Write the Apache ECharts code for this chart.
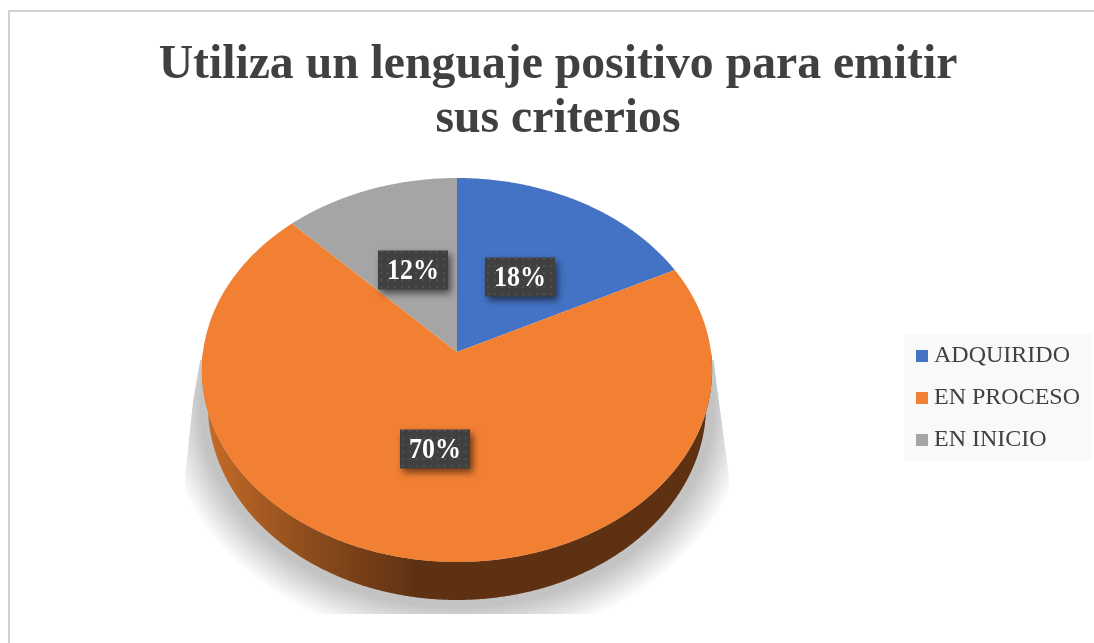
<!DOCTYPE html>
<html>
<head>
<meta charset="utf-8">
<title>Utiliza un lenguaje positivo</title>
<style>
  html, body { margin: 0; padding: 0; background: #fff; }
  #chart { width: 1094px; height: 643px; }
</style>
<script src="https://cdn.jsdelivr.net/npm/echarts@6/dist/echarts.min.js"></script>
</head>
<body>
<div id="chart"></div>
<script>
const chartTitle = 'Utiliza un lenguaje positivo para emitir\nsus criterios'
const categories = ['ADQUIRIDO', 'EN PROCESO', 'EN INICIO']
// slice sizes, the labels round them to 18 / 70 / 12
const percentages = [17.6, 70.2, 12.2]
const sliceColors = ['#4472c4', '#f28033', '#a5a5a5']

const FONT = '"Liberation Serif", serif'
const total = percentages.reduce((a, b) => a + b, 0)

// the pie is tilted: a circle seen in perspective, so the apex sits above the ellipse centre
const CX = 457
const APEX_Y = 352
const R = 254
const PERSP = -0.09375
const PERSP_A = 157.3

function project(r, deg) {
  const t = (deg * Math.PI) / 180
  const u = r * Math.sin(t)
  const v = -r * Math.cos(t)
  const d = 1 + PERSP * v
  return [CX + (R * u) / d, (PERSP_A * v + APEX_Y) / d]
}

// lower rim of the disc, taken from the matching point of the top face
function lower(p) {
  return [CX + ((p[0] - CX) * 249) / 255, 405 + ((p[1] - 370) * 195) / 192]
}

function startDeg(i) {
  let sum = 0
  for (let k = 0; k < i; k++) sum += percentages[k]
  return (sum / total) * 360
}

function dotPattern() {
  const c = document.createElement('canvas')
  c.width = 7
  c.height = 7
  const g = c.getContext('2d')
  g.fillStyle = '#404040'
  g.fillRect(0, 0, 7, 7)
  g.fillStyle = '#505050'
  g.fillRect(2, 2, 2, 2)
  return c
}
const labelPattern = { image: dotPattern(), repeat: 'repeat' }

function renderSlice(params, api) {
  const i = params.seriesIndex - 1
  const from = startDeg(i)
  const to = from + (api.value(0) / total) * 360
  const face = [[CX, APEX_Y]]
  for (let a = from; a <= to; a += 0.5) face.push(project(1, a))
  face.push(project(1, to))

  const children = []

  // side wall only where the slice crosses the front half
  const wallFrom = Math.max(from, 90)
  const wallTo = Math.min(to, 270)
  if (wallTo > wallFrom) {
    const top = []
    const bottom = []
    for (let a = wallFrom; a <= wallTo; a += 0.5) {
      const p = project(1, a)
      top.push(p)
      bottom.unshift(lower(p))
    }
    children.push({
      type: 'polygon',
      shape: { points: top.concat(bottom) },
      style: {
        fill: new echarts.graphic.LinearGradient(202, 0, 712, 0, [
          { offset: 0, color: '#c76c27' },
          { offset: 0.2, color: '#8f4e1d' },
          { offset: 0.42, color: '#5f3113' },
          { offset: 1, color: '#5f3113' },
        ], true),
      },
    })
  }

  children.push({
    type: 'polygon',
    shape: { points: face },
    style: { fill: sliceColors[i] },
  })
  return { type: 'group', children }
}

function renderLabel(params, api) {
  const i = params.dataIndex
  const mid = startDeg(i) + (percentages[i] / total) * 180
  const p = project(0.49, mid)
  const w = 70
  const h = 39
  return {
    type: 'group',
    x: Math.ceil(p[0]),
    y: Math.round(p[1]) + 1,
    children: [
      {
        type: 'rect',
        shape: { x: -w / 2, y: -h / 2, width: w, height: h },
        style: {
          fill: labelPattern,
          shadowBlur: 7,
          shadowOffsetX: 3,
          shadowOffsetY: 4,
          shadowColor: 'rgba(0,0,0,0.55)',
        },
      },
      {
        type: 'text',
        scaleY: 1.13,
        style: {
          x: 0,
          y: 1,
          text: Math.round(api.value(0)) + '%',
          fill: '#fff',
          font: 'bold 26px ' + FONT,
          align: 'center',
          verticalAlign: 'middle',
        },
      },
    ],
  }
}

// soft floor shadow: stacked rings of faint black growing out of the lower rim, cut off flat
function renderShadow(params, api) {
  const rings = []
  const steps = 30
  for (let k = 0; k < steps; k++) {
    const grow = 8 + (36 * k) / (steps - 1)
    const pts = []
    for (let a = 0; a < 360; a += 2) {
      const p = lower(project(1, a))
      pts.push([CX + ((p[0] - CX) * (249 + grow)) / 249, 405 + ((p[1] - 405) * (195 + grow)) / 195])
    }
    rings.push({
      type: 'polygon',
      shape: { points: pts },
      style: { fill: 'rgba(0,0,0,' + 0.2 / steps + ')' },
    })
  }
  return {
    type: 'group',
    children: rings,
    clipPath: {
      type: 'polygon',
      shape: {
        points: [[200, 360], [193, 400], [185, 475], [185, 614], [729, 614], [729, 475], [717, 385], [714, 360]],
      },
    },
  }
}

const series = [
  {
    type: 'custom',
    name: 'sombra',
    coordinateSystem: 'none',
    silent: true,
    z: 1,
    data: [[0]],
    renderItem: renderShadow,
  },
]
categories.forEach((name, i) => {
  series.push({
    type: 'custom',
    name,
    coordinateSystem: 'none',
    itemStyle: { color: sliceColors[i] },
    z: 2,
    data: [[percentages[i]]],
    renderItem: renderSlice,
  })
})
series.push({
  type: 'custom',
  name: 'etiquetas',
  coordinateSystem: 'none',
  silent: true,
  z: 3,
  data: percentages.map((v) => [v]),
  renderItem: renderLabel,
})

const myChart = echarts.init(document.getElementById('chart'))
myChart.setOption({
  animation: false,
  backgroundColor: '#fff',
  tooltip: { show: false },
  title: {
    text: chartTitle,
    left: 553,
    top: 34,
    textAlign: 'center',
    textStyle: {
      fontFamily: FONT,
      fontWeight: 'bold',
      fontSize: 47.7,
      lineHeight: 54,
      color: '#404040',
    },
  },
  legend: {
    data: categories,
    orient: 'vertical',
    left: 904,
    top: 334,
    padding: [9, 12, 8, 12],
    backgroundColor: '#f9f9f9',
    icon: 'rect',
    itemWidth: 12,
    itemHeight: 12,
    itemGap: 16,
    selectedMode: false,
    textStyle: {
      fontFamily: FONT,
      fontSize: 24,
      color: '#404040',
      height: 26,
      lineHeight: 26,
      padding: [0, 0, 0, 1],
    },
  },
  graphic: [
    {
      type: 'polyline',
      silent: true,
      shape: { points: [[9, 643], [9, 11], [1094, 11]] },
      style: { stroke: '#d0d0d0', lineWidth: 2, fill: null },
    },
  ],
  series,
})
</script>
</body>
</html>
